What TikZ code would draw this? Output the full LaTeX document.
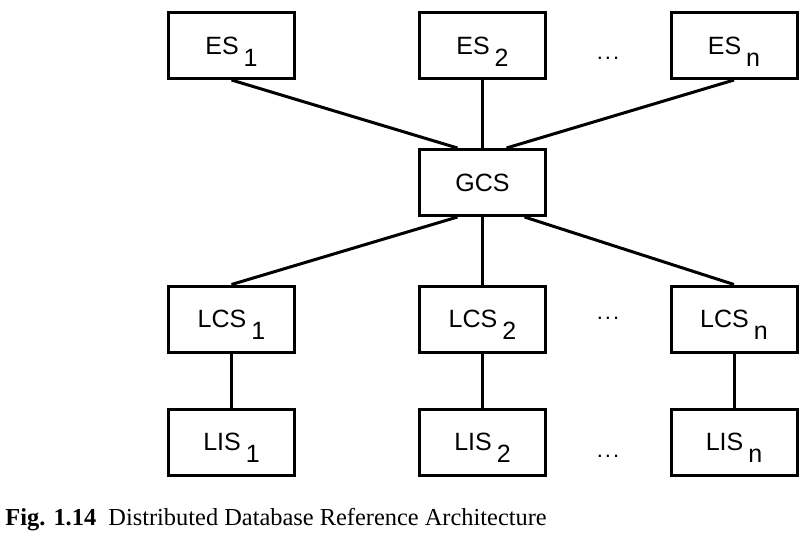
\documentclass[tikz,border=0pt]{standalone}
\usepackage{fontspec}
\setmainfont{Liberation Serif}
\newfontfamily\boxfont{Liberation Sans}
\newcommand{\idx}[1]{\kern2.5pt\raisebox{-6pt}[0pt][0pt]{#1}}
\tikzset{
  sysbox/.style={draw, line width=1.5pt, minimum width=63pt, minimum height=33pt,
    inner sep=0pt, font=\boxfont\fontsize{12.5}{14}\selectfont},
  link/.style={line width=1.5pt},
  dots/.style={anchor=base, inner sep=0pt, font=\boxfont\fontsize{11}{13}\selectfont}
}
\begin{document}
\begin{tikzpicture}[x=0.5pt, y=-0.5pt]
  \useasboundingbox (0,0) rectangle (805,537);

  % Externe Schemata
  \node[sysbox] (ES1) at (231.5,45.5) {ES\idx{1}};
  \node[sysbox] (ES2) at (482.5,45.5) {ES\idx{2}};
  \node[sysbox] (ESn) at (734,45.5) {ES\idx{n}};
  \node[dots] (dES) at (608,59) {.\kern1pt.\kern1pt.};

  % Globales Schema
  \node[sysbox] (GCS) at (482.5,182.5) {GCS};

  % Lokale Schemata
  \node[sysbox] (LCS1) at (231.5,319) {LCS\idx{1}};
  \node[sysbox] (LCS2) at (482.5,319) {LCS\idx{2}};
  \node[sysbox] (LCSn) at (734,319) {LCS\idx{n}};
  \node[dots] (dLCS) at (608,319.5) {.\kern1pt.\kern1pt.};

  % Lokale interne Schemata
  \node[sysbox] (LIS1) at (231.5,442) {LIS\idx{1}};
  \node[sysbox] (LIS2) at (482.5,442) {LIS\idx{2}};
  \node[sysbox] (LISn) at (734,442) {LIS\idx{n}};
  \node[dots] (dLIS) at (608,457) {.\kern1pt.\kern1pt.};

  % Verbindungen
  \draw[link] (ES1.south) -- ([xshift=-12.5pt]GCS.north);
  \draw[link] (ES2.south) -- (GCS.north);
  \draw[link] (ESn.south) -- ([xshift=12pt]GCS.north);
  \draw[link] ([xshift=-12.5pt]GCS.south) -- (LCS1.north);
  \draw[link] (GCS.south) -- (LCS2.north);
  \draw[link] ([xshift=21pt]GCS.south) -- (LCSn.north);
  \draw[link] (LCS1.south) -- (LIS1.north);
  \draw[link] (LCS2.south) -- (LIS2.north);
  \draw[link] (LCSn.south) -- (LISn.north);

  % Bildunterschrift
  \node[anchor=base west, inner sep=0pt, font=\fontsize{12.2}{14}\selectfont] (cap) at (5,525)
    {\textbf{Fig. 1.14}\hspace{0.5em}Distributed Database Reference Architecture};
\end{tikzpicture}
\end{document}
